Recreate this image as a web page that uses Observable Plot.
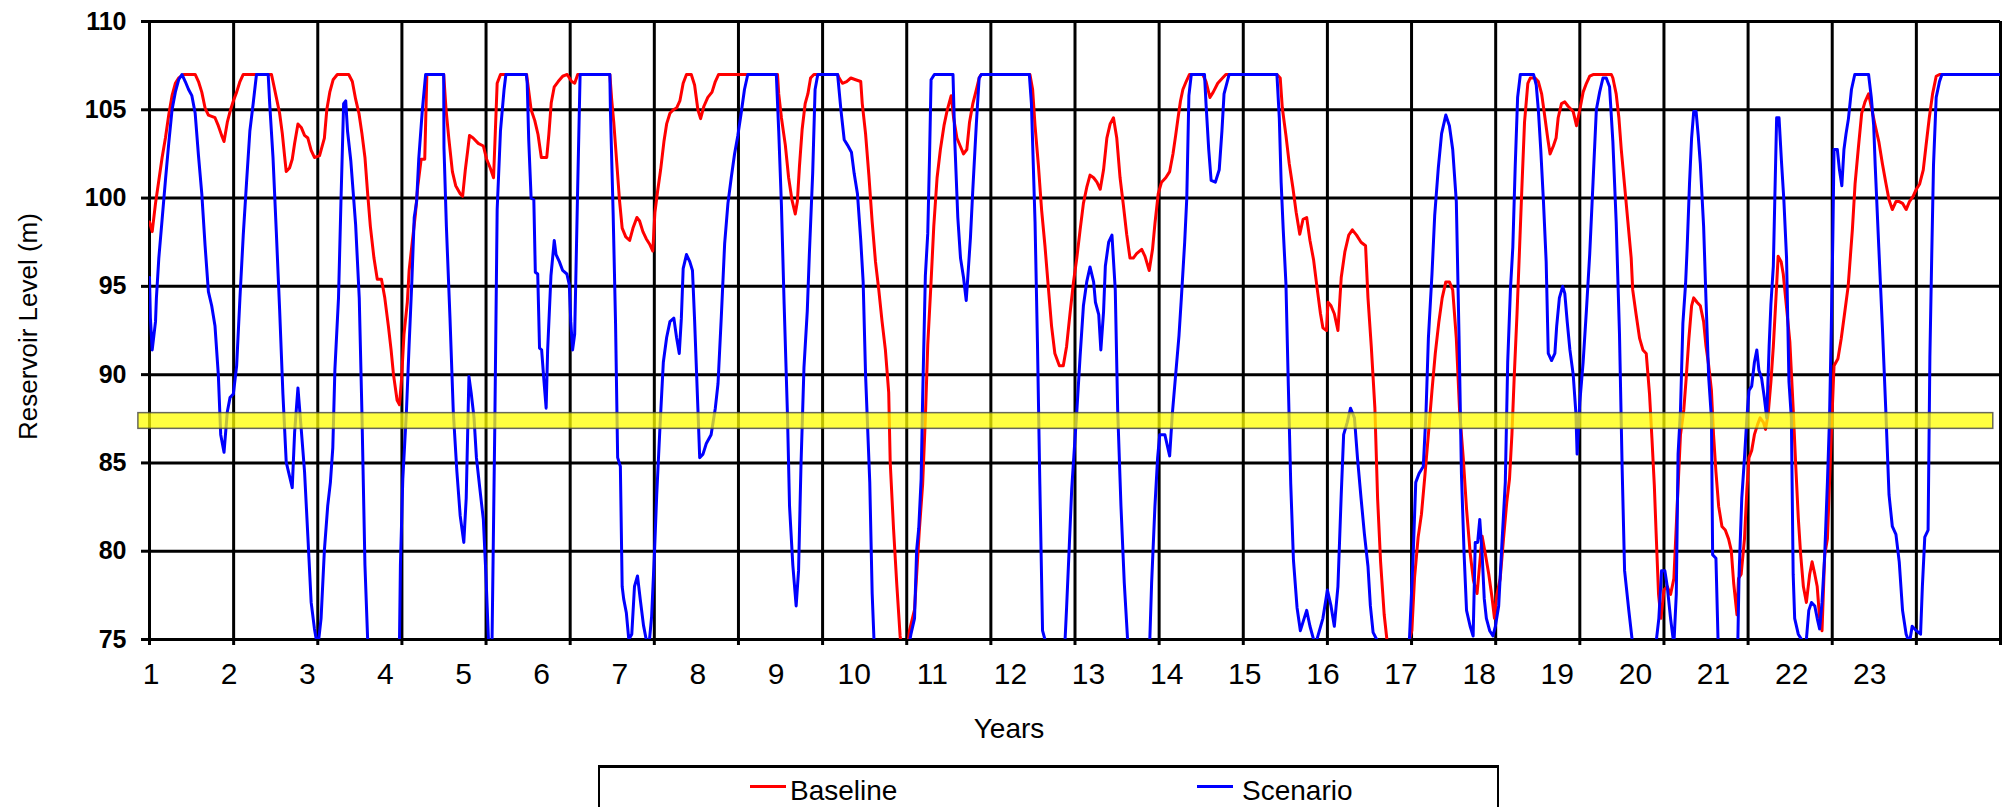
<!DOCTYPE html>
<html><head><meta charset="utf-8">
<script src="https://cdn.jsdelivr.net/npm/d3@7"></script>
<script src="https://cdn.jsdelivr.net/npm/@observablehq/plot@0.6"></script>
<style>
body{margin:0;background:#fff;font-family:"Liberation Sans",Arial,sans-serif;}
#wrap{position:relative;width:2005px;height:807px;overflow:hidden;background:#fff;}
#legend{position:absolute;left:598px;top:765px;width:897px;height:80px;border:2px solid #000;border-top:3px solid #000;background:#fff;}
.sw{position:absolute;top:17px;width:36px;height:3px;}
.lt{position:absolute;top:9px;font-size:28px;line-height:28px;color:#000;white-space:nowrap;}
</style></head>
<body>
<div id="wrap"><div id="chart"></div>
<div id="legend"><span class="sw" style="left:150px;background:#ff0000"></span><span class="lt" style="left:190px">Baseline</span><span class="sw" style="left:597px;background:#0000ff"></span><span class="lt" style="left:642px">Scenario</span></div>
</div>
<script>
// time axis: fortnightly steps, 26 per year
const yearLabels = ["1","2","3","4","5","6","7","8","9","10","11","12","13","14","15","16","17","18","19","20","21","22","23"];
const stepsPerYear = 26;
const totalSteps = 616;
const gridSteps = [0,28,56,84,112,140,168,196,224,252,280,308,336,364,392,420,448,476,504,532,560,588,616];
const levelTicks = [75,80,85,90,95,100,105,110];
const band = {low: 86.93, high: 87.82, from: -3.7, to: 613.6};

// [step, level (m)]
const baselinePoints = [[0,98.65],[0.9,98.1],[2.0,99.7],[3.1,101.0],[4.2,102.3],[5.3,103.4],[6.4,104.7],[7.5,105.8],[8.6,106.5],[9.7,106.8],[11.4,107],[15.2,107],[16.3,106.6],[17.4,106.0],[18.5,105.1],[19.6,104.7],[21.8,104.55],[22.9,104.1],[24.0,103.55],[24.8,103.2],[25.9,104.3],[26.8,104.9],[27.9,105.5],[29.0,106.0],[30.1,106.6],[31.2,107],[40.6,107],[41.1,106.6],[42.2,105.7],[43.3,104.8],[44.2,103.65],[45.0,102.3],[45.5,101.5],[46.6,101.7],[47.5,102.2],[48.3,103.1],[49.4,104.2],[50.5,104.0],[51.6,103.55],[52.7,103.4],[53.8,102.7],[54.9,102.3],[56.6,102.4],[58.2,103.4],[59.0,105.0],[60.0,106.0],[61.1,106.7],[62.5,107],[66.3,107],[67.5,106.6],[68.6,105.6],[69.7,104.8],[70.7,103.65],[71.7,102.3],[72.6,100.25],[73.5,98.4],[74.7,96.6],[75.8,95.4],[77.2,95.4],[78.3,94.35],[79.5,92.75],[80.4,91.4],[81.2,90.0],[82.4,88.55],[83.2,88.3],[83.9,89.8],[84.7,92.3],[85.8,94.1],[86.4,95.9],[87.6,97.75],[88.5,99.1],[89.3,100.7],[90.4,102.2],[91.6,102.2],[92.3,107],[97.9,107],[98.7,105.0],[99.6,103.4],[100.8,101.5],[101.9,100.7],[103.4,100.25],[104.2,100.1],[105.1,101.6],[105.9,102.7],[106.5,103.55],[107.7,103.4],[109.4,103.1],[111.1,102.95],[112.2,102.2],[113.4,101.7],[114.5,101.15],[115.1,103.8],[115.7,106.5],[116.8,107],[125.5,107],[127.0,105.0],[128.2,104.4],[129.3,103.6],[130.4,102.3],[132.2,102.3],[132.9,103.6],[133.7,105.4],[134.7,106.3],[136.0,106.6],[137.5,106.9],[139.0,107],[140.5,106.6],[141.5,106.5],[142.5,107],[153.2,107],[153.8,105.6],[154.5,104.3],[155.5,102.0],[156.4,99.9],[157.3,98.3],[158.5,97.8],[159.8,97.6],[160.9,98.3],[162.2,98.9],[163.1,98.7],[164.2,98.1],[165.3,97.7],[166.4,97.4],[167.5,97.0],[168.2,99.2],[169.1,100.4],[170.1,101.6],[171.2,103.2],[172.1,104.2],[173.2,104.8],[174.3,105.0],[175.4,105.1],[176.5,105.5],[177.6,106.5],[178.7,107],[180.3,107],[181.4,106.4],[182.5,105.0],[183.4,104.5],[184.5,105.2],[185.8,105.7],[187.2,106.0],[188.3,106.6],[189.4,107],[209.0,107],[209.4,105.9],[210.3,104.55],[211.6,103.0],[212.7,101.15],[213.8,99.9],[214.9,99.1],[215.6,99.8],[216.3,101.8],[217.2,103.9],[218.2,105.35],[219.1,105.9],[220.0,106.8],[221.1,107],[229.0,107],[229.5,106.8],[230.6,106.5],[232.0,106.6],[233.4,106.8],[235.0,106.7],[236.7,106.6],[237.2,105.35],[238.3,103.65],[239.4,101.3],[240.5,98.65],[241.6,96.4],[242.7,94.8],[243.8,93.0],[244.9,91.4],[246.0,89.0],[246.5,85.05],[247.6,81.3],[248.7,78.1],[249.8,75.2],[251.4,73],[252.9,75.5],[254.6,76.7],[256.2,81.2],[257.3,83.8],[258.2,87.55],[259.0,91.7],[260.1,95.25],[261.0,98.4],[262.1,101.15],[263.2,102.75],[264.4,104.1],[265.5,105.0],[266.8,105.8],[267.6,104.55],[268.7,103.4],[269.8,102.95],[270.9,102.5],[272.0,102.75],[272.9,104.3],[274.0,105.35],[275.2,106.15],[276.1,106.8],[276.8,107],[293.0,107],[293.9,106.15],[294.7,104.1],[295.8,101.9],[296.9,99.3],[298.0,97.3],[299.1,95.0],[300.2,92.75],[301.3,91.2],[302.8,90.5],[304.1,90.5],[305.2,91.6],[306.3,93.4],[307.5,95.25],[308.6,96.6],[309.7,98.2],[310.8,99.7],[311.9,100.6],[313.0,101.3],[314.2,101.15],[315.3,100.9],[316.4,100.5],[317.5,101.6],[318.6,103.4],[319.7,104.2],[320.8,104.55],[321.9,103.4],[323.0,101.15],[324.1,99.6],[325.2,97.95],[326.3,96.6],[327.4,96.6],[328.5,96.85],[330.2,97.1],[331.3,96.7],[332.7,95.9],[333.8,97.1],[334.6,98.55],[335.7,100.25],[336.8,100.9],[338.2,101.15],[339.5,101.5],[340.6,102.5],[341.5,103.55],[342.3,104.55],[343.1,105.5],[343.9,106.15],[345.0,106.6],[346.1,107],[350.5,107],[351.6,106.6],[352.9,105.7],[354.0,106.0],[355.5,106.5],[357.1,106.8],[358.2,107],[375.2,107],[376.3,106.8],[377.0,105.1],[378.2,103.55],[379.3,101.95],[380.5,100.6],[381.6,99.2],[382.8,97.95],[383.9,98.8],[385.1,98.9],[386.2,97.6],[387.4,96.5],[388.5,95.0],[389.7,93.45],[390.5,92.65],[391.7,92.5],[392.2,94.1],[393.2,93.9],[394.3,93.45],[395.5,92.5],[396.6,95.5],[397.8,96.95],[399.1,97.9],[400.3,98.2],[401.7,97.9],[403.2,97.5],[404.7,97.3],[405.5,94.35],[406.6,91.6],[407.8,88.1],[408.7,83.0],[409.7,79.4],[410.9,76.4],[411.8,75],[415.5,72],[419.3,75],[420.1,75.5],[421.0,78.5],[422.2,80.8],[423.3,82.1],[424.5,84.4],[425.6,86.6],[426.8,89.1],[427.9,91.2],[429.1,93.0],[430.2,94.35],[431.4,95.25],[432.6,95.25],[433.7,94.8],[434.9,92.05],[436.0,87.9],[437.2,85.3],[438.3,82.4],[439.5,79.9],[440.6,78.35],[441.8,77.6],[443.5,80.85],[444.6,79.8],[445.7,78.7],[446.8,77.35],[447.6,76.2],[448.4,77.55],[449.5,78.45],[450.6,80.7],[451.7,82.8],[452.6,84.1],[453.4,86.6],[454.2,90.0],[455.1,93.45],[455.9,96.95],[456.7,100.5],[457.6,104.3],[458.7,106.5],[459.5,106.8],[461.1,106.8],[462.2,106.6],[463.3,105.9],[464.4,104.55],[465.3,103.4],[466.1,102.5],[467.2,102.95],[468.1,103.4],[468.8,104.55],[469.9,105.35],[471.0,105.45],[472.1,105.2],[473.8,104.9],[474.9,104.1],[476.0,105.0],[477.1,106.0],[478.2,106.5],[479.3,106.9],[480.6,107],[486.5,107],[487.0,106.8],[488.1,105.9],[489.0,104.55],[489.8,102.75],[490.9,100.7],[492.0,98.65],[493.1,96.6],[493.6,94.8],[494.7,93.45],[495.9,92.05],[497.0,91.4],[498.1,91.2],[499.2,88.9],[500.0,86.4],[500.8,83.7],[501.4,81.0],[502.2,77.55],[503.0,76.2],[504.0,77.8],[505.1,78.0],[506.2,77.55],[507.3,78.45],[508.4,82.55],[509.5,86.6],[510.6,88.0],[511.4,89.8],[512.3,92.05],[513.2,93.9],[513.9,94.35],[515.0,94.1],[516.1,93.9],[517.2,93.0],[518.0,91.6],[518.9,90.5],[519.8,89.1],[520.5,86.6],[521.3,84.5],[522.2,82.55],[523.3,81.4],[524.4,81.2],[525.5,80.7],[526.4,80.05],[527.2,78.2],[528.3,76.4],[528.8,78.45],[529.7,78.7],[530.8,80.7],[531.6,83.5],[532.3,85.3],[533.2,85.7],[534.1,86.6],[535.2,87.2],[536.0,87.55],[537.1,87.3],[537.8,86.9],[538.7,87.8],[539.6,89.6],[540.4,91.6],[541.2,94.1],[542.0,96.7],[543.0,96.4],[543.7,95.7],[544.8,93.8],[545.9,91.85],[547.0,88.1],[547.8,85.05],[548.7,81.9],[549.5,79.8],[550.4,78.0],[551.4,77.1],[552.5,78.7],[553.3,79.4],[554.2,78.7],[555.0,78.0],[555.8,76.2],[556.6,75.5],[557.5,79.8],[558.4,80.7],[559.1,83.9],[559.9,87.55],[560.6,90.5],[561.9,90.9],[563.0,92.05],[564.1,93.45],[565.3,95.0],[566.7,98.2],[567.6,100.8],[568.7,102.85],[569.8,104.8],[570.9,105.45],[572.1,105.9],[573.2,105.0],[574.3,104.1],[575.5,103.2],[576.7,101.95],[577.8,100.9],[578.9,99.9],[580.0,99.35],[581.2,99.8],[582.3,99.8],[583.4,99.7],[584.6,99.35],[585.7,99.8],[586.9,100.1],[588.0,100.5],[589.1,100.8],[590.3,101.6],[591.2,102.95],[592.3,104.55],[593.4,105.9],[594.6,106.9],[595.7,107],[616,107]];

const scenarioPoints = [[0,95.5],[0.3,93.2],[0.9,91.4],[2.0,93.0],[2.3,94.35],[3.1,96.6],[4.2,98.8],[5.3,101.0],[6.4,103.1],[7.5,105.0],[8.6,106.0],[9.7,106.7],[10.8,107],[11.9,106.6],[13.0,106.15],[14.1,105.8],[15.2,104.8],[16.3,102.4],[17.4,100.25],[18.5,97.3],[19.6,94.7],[20.7,93.9],[21.8,92.75],[22.9,90.0],[23.7,86.6],[24.8,85.6],[25.9,87.9],[26.8,88.7],[27.9,88.9],[29.0,90.5],[30.1,94.35],[31.2,97.9],[32.3,100.9],[33.4,103.8],[34.5,105.35],[35.6,107],[39.5,107],[40.0,105.35],[41.1,102.3],[42.2,98.1],[43.3,93.7],[44.4,88.9],[45.5,85.05],[46.6,84.25],[47.5,83.6],[48.3,86.75],[49.4,89.25],[50.5,86.9],[51.6,84.5],[52.7,80.85],[53.8,77.1],[54.9,75.6],[56.0,74.5],[57.1,76.2],[58.2,80.05],[59.3,82.55],[60.2,83.9],[61.0,85.85],[61.7,90.3],[62.9,94.35],[63.7,99.7],[64.6,105.35],[65.3,105.5],[65.9,103.8],[67.0,102.1],[68.6,98.5],[69.8,94.35],[70.7,87.8],[71.7,79.2],[72.6,75],[78.0,70],[83.2,75],[83.5,79.2],[84.3,84.1],[85.5,87.9],[86.4,91.7],[87.3,95.25],[88.1,98.9],[88.9,99.8],[89.6,102.2],[90.8,105.0],[91.9,107],[97.9,107],[98.0,102.85],[98.8,98.4],[100.0,93.2],[101.1,87.9],[102.3,84.5],[103.4,82.0],[104.6,80.5],[105.4,83.0],[106.3,89.9],[107.1,88.9],[108.0,87.55],[108.8,85.3],[109.9,83.6],[111.1,81.8],[112.0,78.5],[112.8,75],[113.4,73],[114.0,75],[114.9,86.9],[115.7,99.35],[116.8,103.8],[118.0,106.15],[118.6,107],[125.4,107],[125.7,106.5],[126.2,103.3],[127.0,100.0],[127.9,99.9],[128.4,95.8],[129.2,95.7],[129.8,91.5],[130.5,91.4],[131.2,89.8],[132.0,88.1],[132.5,91.4],[133.6,95.6],[134.7,97.6],[135.3,96.8],[136.4,96.4],[137.5,95.9],[138.9,95.7],[139.7,95.1],[140.2,93.0],[140.8,91.4],[141.5,92.3],[142.4,99.8],[143.3,107],[153.2,107],[153.4,104.9],[154.3,99.1],[155.1,92.9],[155.8,85.3],[156.7,84.8],[157.3,78.0],[157.8,77.3],[158.7,76.5],[159.5,75],[160.5,75.3],[161.4,78.0],[162.4,78.6],[163.3,77.3],[164.4,75.8],[165.3,75],[165.8,74.5],[166.4,75],[167.1,76.3],[168.0,79.7],[168.8,83.2],[169.9,87.1],[171.0,90.7],[172.1,92.1],[173.2,93.0],[174.5,93.2],[175.4,92.1],[176.3,91.2],[177.0,93.2],[177.6,96.0],[178.7,96.8],[179.8,96.4],[180.7,95.9],[181.4,93.1],[182.5,88.1],[183.1,85.3],[184.2,85.5],[185.3,86.1],[186.9,86.6],[188.3,88.1],[189.2,89.5],[190.3,93.3],[191.4,97.4],[192.5,99.7],[193.6,101.15],[194.7,102.5],[195.8,103.55],[196.9,104.8],[198.0,106.15],[199.1,107],[208.6,107],[209.4,103.8],[210.3,99.6],[211.2,94.0],[212.3,87.8],[213.0,82.55],[214.1,79.2],[215.2,76.9],[216.0,78.9],[216.8,84.8],[217.8,90.4],[218.9,93.6],[219.6,96.85],[220.7,101.4],[221.5,106.15],[222.4,107],[229.0,107],[230.1,105.0],[231.2,103.3],[232.3,103.0],[233.6,102.6],[234.5,101.4],[235.6,100.25],[236.7,97.6],[237.5,95.25],[238.3,90.0],[239.7,83.9],[240.5,77.6],[241.1,75],[246.0,70],[252.0,74],[253.4,75.3],[254.6,76.2],[255.3,80.05],[256.0,81.3],[256.8,84.1],[257.3,88.7],[258.2,95.6],[259.0,98.0],[259.6,102.4],[260.1,106.7],[261.2,107],[267.4,107],[268.0,103.2],[269.0,98.9],[269.9,96.6],[270.9,95.5],[271.8,94.2],[272.4,95.7],[273.2,97.75],[274.0,100.5],[275.2,104.3],[276.1,106.8],[276.8,107],[292.8,107],[293.5,105.35],[294.7,98.65],[295.5,91.85],[296.3,83.8],[297.2,75.5],[298.0,75],[301.3,70],[304.7,75],[305.2,76.8],[306.1,80.3],[306.9,83.5],[307.7,85.6],[308.6,87.9],[309.7,91.05],[310.8,93.9],[311.9,95.25],[313.0,96.1],[314.2,95.25],[314.8,94.1],[315.9,93.4],[316.6,91.4],[317.5,93.55],[318.1,96.15],[319.2,97.5],[320.3,97.9],[321.4,94.8],[322.2,88.0],[323.3,82.55],[324.4,78.2],[325.5,75],[329.0,70],[332.9,75],[333.5,78.2],[334.6,82.55],[335.5,85.3],[336.2,86.6],[337.9,86.6],[339.5,85.4],[340.4,87.8],[341.5,90.0],[342.6,92.2],[343.4,94.35],[344.5,97.5],[345.2,100.0],[345.9,105.8],[346.7,107],[351.1,107],[351.6,105.35],[352.5,102.75],[353.3,101.0],[354.7,100.9],[356.0,101.6],[356.9,103.8],[357.6,105.9],[359.3,107],[375.2,107],[376.0,104.5],[376.6,100.9],[377.3,98.2],[378.2,95.15],[379.0,89.35],[379.8,83.8],[380.7,79.5],[381.9,76.8],[383.0,75.5],[383.9,76.0],[385.1,76.65],[386.2,75.75],[387.4,75],[388.0,74.5],[388.5,75],[390.5,76.2],[392.0,77.8],[393.2,76.9],[394.3,75.75],[395.5,78.0],[396.6,83.2],[397.4,86.6],[398.6,87.3],[399.7,88.1],[401.0,87.55],[402.0,85.3],[403.2,83.0],[404.3,81.0],[405.5,79.15],[406.3,76.9],[407.2,75.4],[408.4,75],[414.0,70],[419.3,75],[420.5,79.6],[421.4,83.9],[422.5,84.4],[423.9,84.8],[424.8,87.8],[425.6,92.05],[426.8,95.7],[427.7,99.0],[428.9,101.7],[430.0,103.65],[431.4,104.7],[432.6,104.1],[433.7,102.75],[434.9,99.8],[435.8,92.2],[436.6,84.4],[437.5,79.8],[438.3,76.65],[439.5,75.75],[440.5,75.2],[441.2,80.5],[442.0,80.5],[442.7,81.8],[443.5,79.8],[444.2,77.3],[444.9,76.2],[446.0,75.5],[447.1,75.2],[447.9,75.75],[449.0,76.9],[450.1,80.5],[451.2,83.9],[452.0,90.7],[452.9,94.8],[453.7,97.2],[454.5,101.8],[455.3,105.7],[456.2,107],[460.6,107],[461.5,106.4],[462.2,105.0],[463.0,102.75],[463.9,99.8],[464.8,96.4],[465.5,91.2],[466.6,90.8],[467.7,91.2],[468.3,92.75],[469.2,94.35],[470.3,95.0],[471.0,94.6],[471.8,93.0],[472.7,91.4],[473.8,90.0],[474.7,87.8],[475.1,85.5],[476.0,88.45],[477.1,90.7],[478.2,93.65],[479.3,96.85],[480.4,100.9],[481.5,105.0],[482.6,106.0],[483.7,106.8],[484.8,106.8],[485.9,106.3],[487.0,103.2],[488.1,98.65],[489.2,92.3],[490.1,84.6],[490.9,78.9],[492.3,76.65],[493.4,75],[497.5,70],[501.5,75],[502.3,76.2],[503.2,78.9],[504.3,78.9],[505.1,78.0],[506.2,76.2],[507.3,74.7],[508.1,77.55],[508.7,85.5],[509.5,88.0],[510.3,92.9],[511.2,95.15],[511.7,97.1],[512.5,100.8],[513.2,103.4],[513.9,104.9],[514.7,104.9],[515.4,103.55],[516.1,101.95],[517.2,98.4],[518.0,94.2],[518.9,89.8],[519.8,87.55],[520.2,79.8],[521.3,79.6],[522.0,75],[525.3,70],[528.6,75],[529.0,78.7],[529.9,83.0],[530.8,85.3],[531.6,87.55],[532.3,89.1],[533.2,89.35],[534.1,90.7],[534.9,91.4],[535.6,90.25],[536.5,89.8],[537.4,88.7],[538.2,87.55],[539.0,91.6],[539.6,94.0],[540.4,96.15],[540.9,100.0],[541.5,104.55],[542.3,104.55],[543.1,102.1],[543.9,99.9],[544.8,96.6],[545.6,89.6],[546.4,87.55],[547.0,78.7],[547.5,76.2],[548.7,75.3],[549.8,75],[550.6,74.5],[551.4,75],[552.2,76.65],[553.1,77.1],[554.2,76.9],[555.0,76.2],[555.8,75.6],[556.6,77.1],[557.5,79.8],[558.4,83.9],[559.1,87.55],[559.7,92.75],[560.2,97.75],[560.6,102.75],[561.7,102.75],[562.4,101.6],[563.2,100.7],[563.9,102.75],[564.6,103.65],[565.4,104.5],[566.4,106.15],[567.5,107],[572.1,107],[573.0,105.7],[573.8,104.1],[574.3,101.85],[575.5,97.2],[576.7,92.65],[577.8,88.1],[578.9,83.2],[580.0,81.4],[581.2,80.95],[582.3,79.4],[583.4,76.65],[584.6,75.3],[585.7,74.8],[586.6,75.75],[588.0,75.5],[589.4,75.3],[590.0,78.0],[590.8,80.8],[591.9,81.2],[592.5,91.0],[593.1,96.6],[593.7,101.85],[594.6,105.7],[595.7,106.6],[596.5,107],[616,107]];

const baseline = baselinePoints.map(([step, level]) => ({step, level}));
const scenario = scenarioPoints.map(([step, level]) => ({step, level}));
const yearTicks = yearLabels.map((label, i) => ({label, step: i * stepsPerYear + 0.5}));

const chart = Plot.plot({
  width: 2005,
  height: 760,
  marginLeft: 149,
  marginRight: 5,
  marginTop: 21,
  marginBottom: 121,
  style: {fontFamily: "'Liberation Sans', Arial, sans-serif", background: "#fff", color: "#000", overflow: "visible"},
  x: {domain: [0, totalSteps], axis: null},
  y: {domain: [75, 110], axis: null},
  marks: [
    Plot.ruleY(levelTicks, {stroke: "#000", strokeWidth: 3}),
    Plot.ruleX(gridSteps, {stroke: "#000", strokeWidth: 3}),
    Plot.line(baseline, {x: "step", y: "level", stroke: "#ff0000", strokeWidth: 3, clip: true}),
    Plot.line(scenario, {x: "step", y: "level", stroke: "#0000ff", strokeWidth: 3, clip: true}),
    Plot.rect([band], {x1: "from", x2: "to", y1: "low", y2: "high", fill: "#ffff00", fillOpacity: 0.75, stroke: "#444", strokeWidth: 1.5, strokeOpacity: 0.8}),
    Plot.axisY({ticks: levelTicks, tickSize: 8, tickPadding: 15, fontSize: 25, fontWeight: "bold", strokeWidth: 3, tickFormat: d => String(d)}),
    Plot.axisX({ticks: gridSteps, tickSize: 6, strokeWidth: 3, tickFormat: () => ""}),
    Plot.text(yearTicks, {x: "step", text: "label", frameAnchor: "bottom", lineAnchor: "top", textAnchor: "middle", dy: 23, fontSize: 30}),
    Plot.text(["Years"], {text: d => d, frameAnchor: "bottom", lineAnchor: "top", textAnchor: "middle", dx: -66, dy: 79, fontSize: 28}),
    Plot.text(["Reservoir Level (m)"], {text: d => d, frameAnchor: "left", textAnchor: "middle", lineAnchor: "middle", rotate: -90, dx: -121, dy: -4, fontSize: 26})
  ]
});
document.getElementById("chart").appendChild(chart);
</script>
</body></html>
